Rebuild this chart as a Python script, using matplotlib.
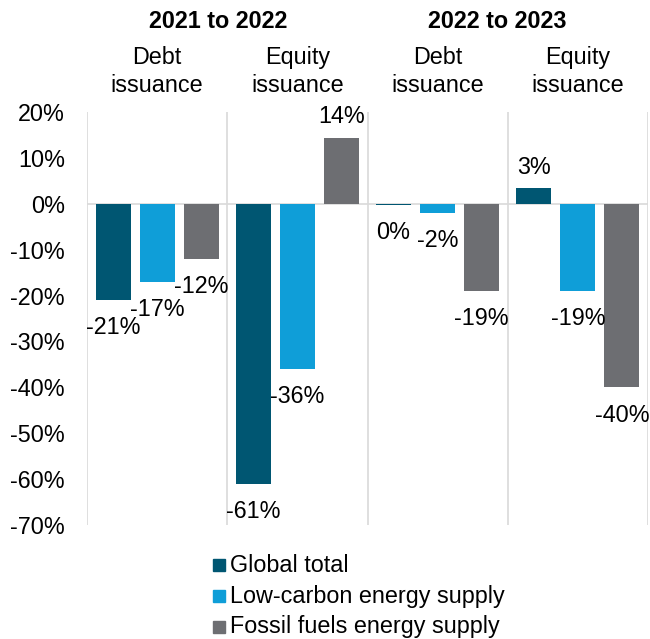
import matplotlib.pyplot as plt
import numpy as np
from matplotlib.patches import Rectangle

plt.rcParams['font.family'] = ['Liberation Sans', 'DejaVu Sans']

periods = ['2021 to 2022', '2022 to 2023']
groups = ['Debt\nissuance', 'Equity\nissuance', 'Debt\nissuance', 'Equity\nissuance']
series = ['Global total', 'Low-carbon energy supply', 'Fossil fuels energy supply']
global_total = [-21, -61, -0.3, 3.4]
low_carbon = [-17, -36, -2, -19]
fossil = [-12, 14.4, -19, -40]
colors = ['#005672', '#0F9ED8', '#6D6E72']
yticks = [20, 10, 0, -10, -20, -30, -40, -50, -60, -70]

FS = 16.8

fig = plt.figure(figsize=(6.5, 6.39), dpi=100)
ax = fig.add_axes([87 / 650, 114 / 639, 561 / 650, 413 / 639])

x = np.arange(len(groups))
step = 0.314
width = 0.25
for i, (vals, col) in enumerate(zip([global_total, low_carbon, fossil], colors)):
    pos = x + (i - 1) * step
    ax.bar(pos, vals, width=width, color=col, zorder=2)
    for px, v in zip(pos, vals):
        if v >= 0:
            off = 15
        else:
            off = -20
        ax.annotate(f'{int(round(v))}%', (px, v), xytext=(0, off),
                    textcoords='offset points', ha='center', va='center',
                    fontsize=FS, zorder=3)

ax.set_xlim(-0.5, 3.5)
ax.set_ylim(-70, 20)
ax.set_yticks(yticks)
ax.set_yticklabels([f'{t}%' for t in yticks], fontsize=FS)
ax.tick_params(axis='y', length=0, pad=16)
ax.set_xticks([])
for s in ax.spines.values():
    s.set_visible(False)

# group dividers and zero line
for b in np.arange(-0.5, 4.0, 1.0):
    ax.axvline(b, color='#D9D9D9', lw=1.2, zorder=1)
ax.axhline(0, color='#D9D9D9', lw=1.2, zorder=1)

for gx, g in zip(x, groups):
    ax.text(gx, 1.098, g, transform=ax.get_xaxis_transform(), ha='center',
            va='center', fontsize=FS, linespacing=1.25)

for px, p in zip([218, 497], periods):
    fig.text(px / 650, 1 - 21 / 639, p, ha='center', va='center',
             fontsize=FS, fontweight='bold')

for i, (name, col) in enumerate(zip(series, colors)):
    yc = 1 - (565 + 31 * i) / 639
    fig.patches.append(Rectangle((213 / 650, yc - 6 / 639), 12 / 650, 12 / 639,
                                 transform=fig.transFigure, color=col))
    fig.text(230 / 650, yc, name, ha='left', va='center', fontsize=FS)

fig.savefig('out.png', dpi=100)
